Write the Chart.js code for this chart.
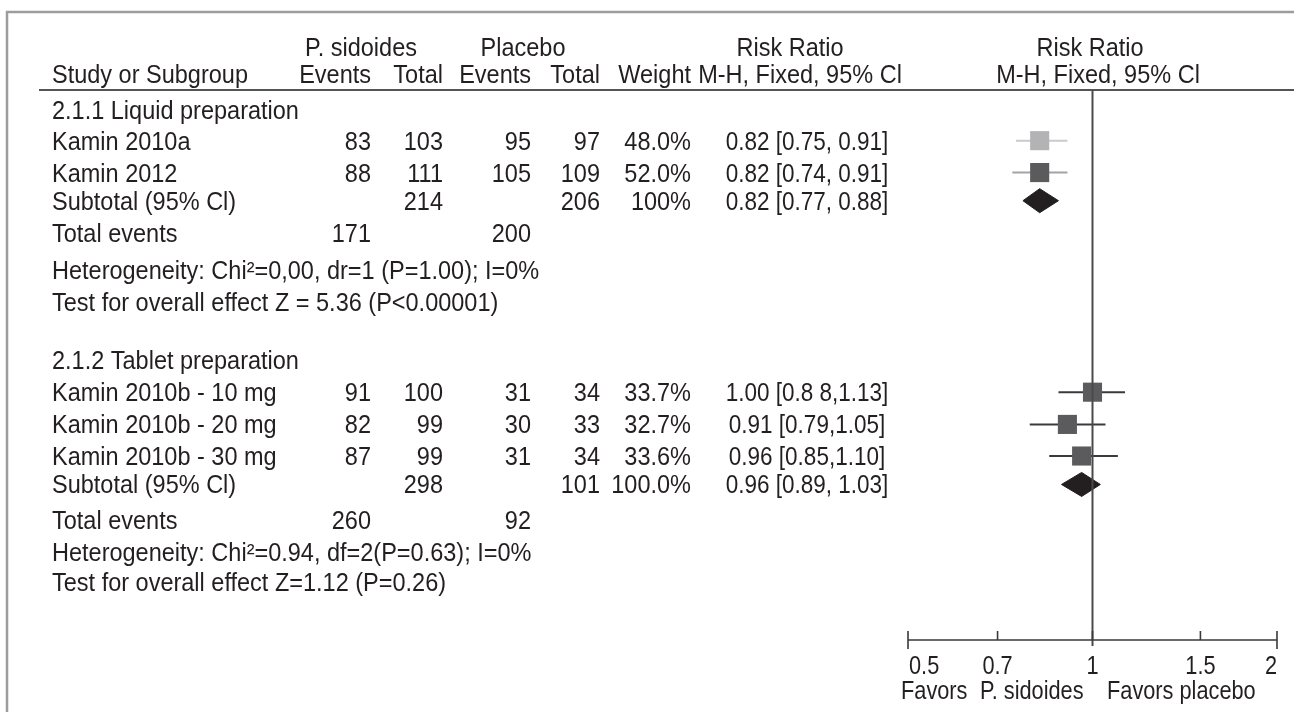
<!DOCTYPE html>
<html>
<head>
<meta charset="utf-8">
<script src="https://cdn.jsdelivr.net/npm/chart.js@4.4.1/dist/chart.umd.min.js"></script>
<style>
  html, body { margin: 0; padding: 0; background: #fff; }
  #wrap { width: 1294px; height: 712px; position: relative; }
</style>
</head>
<body>
<div id="wrap"><canvas id="forest"></canvas></div>
<script>
// ---- study rows ----
const studies = ['Kamin 2010a', 'Kamin 2012', 'Kamin 2010b - 10 mg', 'Kamin 2010b - 20 mg', 'Kamin 2010b - 30 mg'];
const psEvents = [83, 88, 91, 82, 87];
const psTotal = [103, 111, 100, 99, 99];
const plEvents = [95, 105, 31, 30, 31];
const plTotal = [97, 109, 34, 33, 34];
const weights = ['48.0%', '52.0%', '33.7%', '32.7%', '33.6%'];
const rr = [0.82, 0.82, 1.00, 0.91, 0.96];
const rrLow = [0.75, 0.74, 0.88, 0.79, 0.85];
const rrHigh = [0.91, 0.91, 1.13, 1.05, 1.10];
const rrText = ['0.82 [0.75, 0.91]', '0.82 [0.74, 0.91]', '1.00 [0.8 8,1.13]', '0.91 [0.79,1.05]', '0.96 [0.85,1.10]'];

// ---- subgroups ----
const groups = ['2.1.1 Liquid preparation', '2.1.2 Tablet preparation'];
const subPsTotal = [214, 298];
const subPlTotal = [206, 101];
const subWeight = ['100%', '100.0%'];
const subRR = [0.82, 0.96];
const subLow = [0.77, 0.89];
const subHigh = [0.88, 1.03];
const subText = ['0.82 [0.77, 0.88]', '0.96 [0.89, 1.03]'];
const totalPs = [171, 260];
const totalPl = [200, 92];
const hetText = ['Heterogeneity: Chi\u00b2=0,00, dr=1 (P=1.00); I=0%', 'Heterogeneity: Chi\u00b2=0.94, df=2(P=0.63); I=0%'];
const testText = ['Test for overall effect Z = 5.36 (P<0.00001)', 'Test for overall effect Z=1.12 (P=0.26)'];

// ---- axis ----
const axisTicks = [0.5, 0.7, 1, 1.5, 2];
const axisLabels = ['0.5', '0.7', '1', '1.5', '2'];

// layout: row slots (y scale units) for each line of the table
const rows = {
  group: [0, 7.92],
  study: [0.97, 1.98, 8.93, 9.95, 10.95],
  sub: [2.87, 11.85],
  total: [3.9, 12.97],
  het: [5.05, 14.0],
  test: [6.07, 14.95]
};
const col = { name: 52, psEv: 371, psTot: 443, plEv: 531, plTot: 600, weight: 691, ci: 807 };
const squareColors = ['#b3b3b5', '#5b5b5d', '#5b5b5d', '#5b5b5d', '#5b5b5d'];
const whiskerColors = ['#cacaca', '#a3a3a5', '#3a3a3c', '#3a3a3c', '#3a3a3c'];
const DIAMOND_H = 0.38;
const INK = '#231f20';
const FONT = '25px "Liberation Sans", Arial, sans-serif';
const SX = 0.94;      // the original face is a little narrower than Liberation Sans
const SX_CI = 0.9;
const SX_AXIS = 0.87;
const CAP = 18;

function txt(ctx, s, x, y, align, sx) {
  ctx.save();
  ctx.translate(x, y + CAP / 2);
  ctx.scale(sx || SX, 1);
  ctx.textAlign = align || 'left';
  ctx.textBaseline = 'alphabetic';
  ctx.fillText(s, 0, 0);
  ctx.restore();
}

// whiskers (confidence intervals)
const whiskerSets = studies.map((s, i) => ({
  type: 'line',
  data: [{ x: rrLow[i], y: rows.study[i] }, { x: rrHigh[i], y: rows.study[i] }],
  borderColor: whiskerColors[i],
  borderWidth: 2,
  pointRadius: 0,
  order: 2
}));

// subtotal diamonds
const diamondSets = groups.map((g, i) => ({
  type: 'line',
  data: [
    { x: subLow[i], y: rows.sub[i] },
    { x: subRR[i], y: rows.sub[i] - DIAMOND_H },
    { x: subHigh[i], y: rows.sub[i] },
    { x: subRR[i], y: rows.sub[i] + DIAMOND_H },
    { x: subLow[i], y: rows.sub[i] }
  ],
  borderColor: INK,
  backgroundColor: INK,
  borderWidth: 1,
  fill: 'shape',
  tension: 0,
  pointRadius: 0,
  order: 1
}));

// study squares
const squareSet = {
  type: 'scatter',
  data: studies.map((s, i) => ({ x: rr[i], y: rows.study[i] })),
  pointStyle: 'rect',
  pointRadius: 13.5,
  backgroundColor: squareColors,
  borderWidth: 0,
  order: 0
};

const tablePlugin = {
  id: 'forestTable',
  afterDatasetsDraw(chart) {
    const ctx = chart.ctx;
    const xs = chart.scales.x;
    const ys = chart.scales.y;
    const area = chart.chartArea;
    const y = v => ys.getPixelForValue(v);

    ctx.save();
    // frame
    ctx.strokeStyle = '#9d9d9d';
    ctx.lineWidth = 2.5;
    ctx.beginPath();
    ctx.moveTo(7, 712);
    ctx.lineTo(7, 12);
    ctx.lineTo(1294, 12);
    ctx.stroke();

    // header underline
    ctx.strokeStyle = '#555557';
    ctx.lineWidth = 2;
    ctx.beginPath();
    ctx.moveTo(39, area.top);
    ctx.lineTo(1294, area.top);
    ctx.stroke();

    // line of no effect
    const x1 = xs.getPixelForValue(1);
    ctx.strokeStyle = '#4a4a4c';
    ctx.lineWidth = 2;
    ctx.beginPath();
    ctx.moveTo(x1, area.top);
    ctx.lineTo(x1, area.bottom + 6);
    ctx.stroke();

    // x axis
    ctx.strokeStyle = '#3a3a3c';
    ctx.lineWidth = 1.6;
    ctx.beginPath();
    ctx.moveTo(xs.getPixelForValue(axisTicks[0]), area.bottom);
    ctx.lineTo(xs.getPixelForValue(axisTicks[axisTicks.length - 1]), area.bottom);
    axisTicks.forEach((t, i) => {
      const px = xs.getPixelForValue(t);
      const end = i === 0 || i === axisTicks.length - 1;
      ctx.moveTo(px, area.bottom - 9);
      ctx.lineTo(px, end ? area.bottom + 9 : area.bottom);
    });
    ctx.stroke();

    ctx.fillStyle = INK;
    ctx.font = FONT;
    axisTicks.forEach((t, i) => {
      const px = xs.getPixelForValue(t);
      const align = i === 0 ? 'left' : (i === axisTicks.length - 1 ? 'right' : 'center');
      txt(ctx, axisLabels[i], px + (i === 0 ? 1 : 0), 665, align, SX_AXIS);
    });
    txt(ctx, 'Favors', 901, 690, 'left', SX_AXIS);
    txt(ctx, 'P. sidoides', 980, 690, 'left', SX_AXIS);
    txt(ctx, 'Favors placebo', 1107, 690, 'left', SX_AXIS);

    // headers
    txt(ctx, 'P. sidoides', 361, 47, 'center');
    txt(ctx, 'Placebo', 523, 47, 'center');
    txt(ctx, 'Risk Ratio', 790, 47, 'center');
    txt(ctx, 'Risk Ratio', 1090, 47, 'center');
    txt(ctx, 'Study or Subgroup', col.name, 74);
    txt(ctx, 'Events', col.psEv, 74, 'right');
    txt(ctx, 'Total', col.psTot, 74, 'right');
    txt(ctx, 'Events', col.plEv, 74, 'right');
    txt(ctx, 'Total', col.plTot, 74, 'right');
    txt(ctx, 'Weight', col.weight, 74, 'right');
    txt(ctx, 'M-H, Fixed, 95% Cl', 800, 74, 'center');
    txt(ctx, 'M-H, Fixed, 95% Cl', 1098, 74, 'center');

    // study lines
    studies.forEach((s, i) => {
      const py = y(rows.study[i]);
      txt(ctx, s, col.name, py);
      txt(ctx, String(psEvents[i]), col.psEv, py, 'right');
      txt(ctx, String(psTotal[i]), col.psTot, py, 'right');
      txt(ctx, String(plEvents[i]), col.plEv, py, 'right');
      txt(ctx, String(plTotal[i]), col.plTot, py, 'right');
      txt(ctx, weights[i], col.weight, py, 'right');
      txt(ctx, rrText[i], col.ci, py, 'center', SX_CI);
    });

    // subgroup lines
    groups.forEach((g, i) => {
      txt(ctx, g, col.name, y(rows.group[i]));
      const sy = y(rows.sub[i]);
      txt(ctx, 'Subtotal (95% Cl)', col.name, sy);
      txt(ctx, String(subPsTotal[i]), col.psTot, sy, 'right');
      txt(ctx, String(subPlTotal[i]), col.plTot, sy, 'right');
      txt(ctx, subWeight[i], col.weight, sy, 'right');
      txt(ctx, subText[i], col.ci, sy, 'center', SX_CI);
      const ty = y(rows.total[i]);
      txt(ctx, 'Total events', col.name, ty);
      txt(ctx, String(totalPs[i]), col.psEv, ty, 'right');
      txt(ctx, String(totalPl[i]), col.plEv, ty, 'right');
      txt(ctx, hetText[i], col.name, y(rows.het[i]));
      txt(ctx, testText[i], col.name, y(rows.test[i]));
    });
    ctx.restore();
  }
};

new Chart(document.getElementById('forest'), {
  type: 'scatter',
  data: { datasets: [squareSet, ...diamondSets, ...whiskerSets] },
  options: {
    responsive: true,
    maintainAspectRatio: false,
    animation: false,
    events: [],
    layout: { padding: { left: 908, right: 17, top: 90, bottom: 72 } },
    plugins: { legend: { display: false }, tooltip: { enabled: false } },
    scales: {
      x: { type: 'logarithmic', min: 0.5, max: 2, display: false },
      y: { type: 'linear', reverse: true, min: -20 / 31.6, max: -20 / 31.6 + 550 / 31.6, display: false }
    }
  },
  plugins: [tablePlugin]
});
</script>
</body>
</html>
